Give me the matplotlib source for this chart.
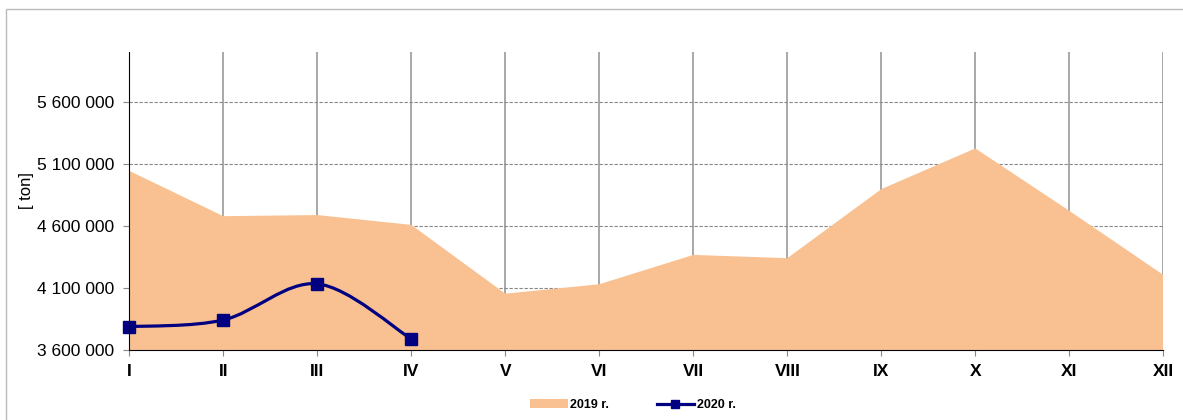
import numpy as np
import matplotlib.pyplot as plt
from matplotlib.path import Path
from matplotlib.patches import PathPatch, Patch, Rectangle
from matplotlib.lines import Line2D
from matplotlib.ticker import FuncFormatter

plt.rcParams['font.family'] = ['Liberation Sans', 'DejaVu Sans']

## data
months = ['I', 'II', 'III', 'IV', 'V', 'VI', 'VII', 'VIII', 'IX', 'X', 'XI', 'XII']
tons_2019 = [5045000, 4680000, 4689000, 4610000, 4056000, 4132000,
             4368000, 4342000, 4898000, 5226000, 4723000, 4207000]
tons_2020 = [3790000, 3844000, 4135000, 3691000]

fill_color = '#F9C191'
line_color = '#000080'


def smooth_path(x, y):
    # excel-like smoothed line: bezier segments through the points
    x = np.asarray(x, float)
    y = np.asarray(y, float)
    n = len(x)
    verts = [(x[0], y[0])]
    codes = [Path.MOVETO]
    for i in range(n - 1):
        p0 = np.array([x[max(i - 1, 0)], y[max(i - 1, 0)]])
        p1 = np.array([x[i], y[i]])
        p2 = np.array([x[i + 1], y[i + 1]])
        p3 = np.array([x[min(i + 2, n - 1)], y[min(i + 2, n - 1)]])
        c1 = p1 + (p2 - p0) / 6.0
        c2 = p2 - (p3 - p1) / 6.0
        verts += [tuple(c1), tuple(c2), tuple(p2)]
        codes += [Path.CURVE4] * 3
    return Path(verts, codes)


fig = plt.figure(figsize=(11.83, 4.2), dpi=100)
ax = fig.add_axes([0.1093, 0.166, 0.9834 - 0.1093, 0.8755 - 0.166])

x19 = np.arange(len(months))
x20 = np.arange(len(tons_2020))

ax.fill_between(x19, 0, tons_2019, color=fill_color, linewidth=0, zorder=2)

patch = PathPatch(smooth_path(x20, tons_2020), facecolor='none',
                  edgecolor=line_color, linewidth=2.3, zorder=3, clip_on=False)
ax.add_patch(patch)
ax.plot(x20, tons_2020, linestyle='none', marker='s', markersize=8.5,
        color=line_color, zorder=4, clip_on=False)

ax.set_xlim(0, 11)
ax.set_ylim(3600000, 6000000)
ax.set_yticks(np.arange(3600000, 5600001, 500000))
ax.yaxis.set_major_formatter(FuncFormatter(lambda v, p: '{:,.0f}'.format(v).replace(',', ' ')))
ax.set_xticks(x19)
ax.set_xticklabels(months, fontweight='bold', fontsize=12.5)

ax.grid(axis='x', color='#999999', linewidth=1.2, linestyle='-', zorder=0)
ax.grid(axis='y', color='#888888', linewidth=0.8, linestyle=(0, (3, 1.5)), zorder=0)
ax.set_axisbelow(True)

for s in ['top', 'right']:
    ax.spines[s].set_visible(False)
ax.spines['left'].set_color('black')
ax.spines['bottom'].set_color('black')
ax.spines['left'].set_zorder(5)
ax.spines['bottom'].set_zorder(5)

ax.tick_params(axis='y', length=4, color='#888888', pad=7, labelsize=12.5)
ax.tick_params(axis='x', length=4, color='#888888', pad=6)

ax.set_ylabel('[ ton]', fontsize=12)
ax.yaxis.set_label_coords(-0.092, 0.535)

handles = [Patch(facecolor=fill_color, edgecolor='none'),
           Line2D([0], [0], color=line_color, linewidth=2.3, marker='s', markersize=6)]
fig.legend(handles, ['2019 r.', '2020 r.'], loc='center', bbox_to_anchor=(0.535, 0.036),
           ncol=2, frameon=False, prop={'weight': 'bold', 'size': 9},
           handlelength=3.0, handletextpad=0.2, columnspacing=3.8)

# outer chart frame
fig.patches.append(Rectangle((6 / 1183, -0.1), 1.2, 1 - 9 / 420 + 0.1,
                             transform=fig.transFigure, fill=False,
                             edgecolor='#bbbbbb', linewidth=1))

plt.savefig('out.png', dpi=100)
